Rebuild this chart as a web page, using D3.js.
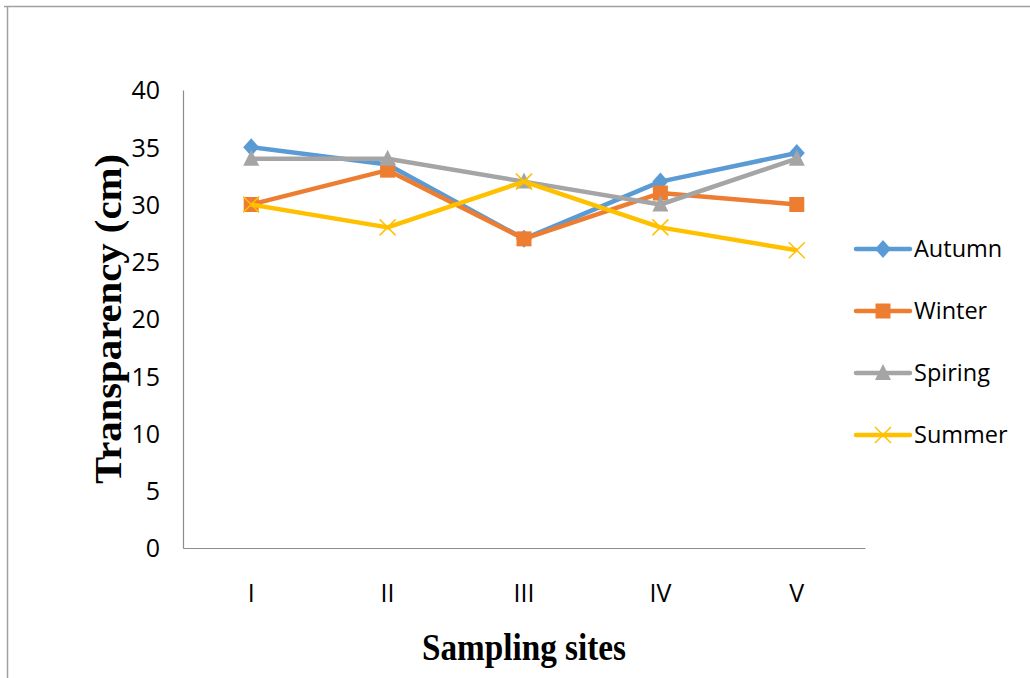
<!DOCTYPE html>
<html>
<head>
<meta charset="utf-8">
<script src="https://cdn.jsdelivr.net/npm/d3@7"></script>
<style>
  body { margin: 0; background: #fff; }
  text { fill: #000; }
  .tick text { font-family: "Open Sans", sans-serif; font-size: 25px; }
  .title { font-family: "Liberation Serif", serif; font-weight: bold; }
  .legend text { font-family: "Open Sans", sans-serif; font-size: 23.5px; }
</style>
</head>
<body>
<script>
// data
var sites = ["I", "II", "III", "IV", "V"];
var seriesNames = ["Autumn", "Winter", "Spiring", "Summer"];
var autumn = [35, 33.5, 27, 32, 34.5];
var winter = [30, 33, 27, 31, 30];
var spiring = [34, 34, 32, 30, 34];
var summer = [30, 28, 32, 28, 26];
var yTicks = [0, 5, 10, 15, 20, 25, 30, 35, 40];

var colors = ["#5b9bd5", "#ed7d31", "#a5a5a5", "#ffc000"];
var shapes = ["diamond", "square", "triangle", "cross"];
var values = [autumn, winter, spiring, summer];

var W = 1030, H = 678;
var margin = {top: 90, right: 165, bottom: 130, left: 183},
    width = W - margin.left - margin.right,
    height = H - margin.top - margin.bottom;

var svg = d3.select("body").append("svg")
    .attr("width", W)
    .attr("height", H);

// outer frame (top and left only visible)
svg.append("line").attr("x1", 4).attr("x2", W).attr("y1", 6.5).attr("y2", 6.5)
    .attr("stroke", "#a0a0a0").attr("stroke-width", 1.5);
svg.append("line").attr("x1", 7.5).attr("x2", 7.5).attr("y1", 6).attr("y2", H)
    .attr("stroke", "#a0a0a0").attr("stroke-width", 1.5);

var g = svg.append("g")
    .attr("transform", "translate(" + margin.left + "," + margin.top + ")");

var x = d3.scaleBand().domain(sites).range([0, width]);
var y = d3.scaleLinear().domain([0, 40]).range([height, 0]);

// axes
var xAxis = g.append("g")
    .attr("transform", "translate(0," + height + ")")
    .call(d3.axisBottom(x).tickSize(0).tickPadding(36));
xAxis.select(".domain").attr("stroke", "#8c8c8c").attr("stroke-width", 1.2);

var yAxis = g.append("g")
    .call(d3.axisLeft(y).tickValues(yTicks).tickSize(0).tickPadding(23));
yAxis.select(".domain").attr("stroke", "#8c8c8c").attr("stroke-width", 1.2);
yAxis.selectAll(".tick text").attr("dy", "0.35em");

// axis titles
svg.append("text")
    .attr("class", "title")
    .attr("x", margin.left + width / 2)
    .attr("y", 660)
    .attr("text-anchor", "middle")
    .attr("textLength", 204)
    .attr("lengthAdjust", "spacingAndGlyphs")
    .style("font-size", "38px")
    .text("Sampling sites");

svg.append("text")
    .attr("class", "title")
    .attr("transform", "translate(121," + (margin.top + height / 2) + ") rotate(-90)")
    .attr("text-anchor", "middle")
    .attr("textLength", 330)
    .attr("lengthAdjust", "spacingAndGlyphs")
    .style("font-size", "38px")
    .text("Transparency (cm)");

var line = d3.line()
    .x(function(d, i) { return x(sites[i]) + x.bandwidth() / 2; })
    .y(function(d) { return y(d); });

function marker(sel, shape, color) {
  if (shape === "diamond") {
    sel.append("path").attr("d", "M0,-9L8,0L0,9L-8,0Z").attr("fill", color);
  } else if (shape === "square") {
    sel.append("rect").attr("x", -7.5).attr("y", -7.5).attr("width", 15).attr("height", 15)
        .attr("fill", color);
  } else if (shape === "triangle") {
    sel.append("path").attr("d", "M0,-9L8,7L-8,7Z").attr("fill", color);
  } else {
    sel.append("path").attr("d", "M-8,-8L8,8M-8,8L8,-8")
        .attr("stroke", color).attr("stroke-width", 1.5).attr("fill", "none");
  }
}

values.forEach(function(vals, s) {
  var sg = g.append("g");
  sg.append("path")
      .datum(vals)
      .attr("fill", "none")
      .attr("stroke", colors[s])
      .attr("stroke-width", 4.5)
      .attr("stroke-linejoin", "round")
      .attr("d", line);
  sg.selectAll(".pt")
      .data(vals)
    .enter().append("g")
      .attr("transform", function(d, i) {
        return "translate(" + (x(sites[i]) + x.bandwidth() / 2) + "," + y(d) + ")";
      })
      .each(function() { marker(d3.select(this), shapes[s], colors[s]); });
});

// legend
var legend = svg.append("g").attr("class", "legend");
seriesNames.forEach(function(name, i) {
  var ly = 249 + i * 62;
  var lg = legend.append("g").attr("transform", "translate(0," + ly + ")");
  lg.append("line").attr("x1", 856).attr("x2", 910).attr("y1", 0).attr("y2", 0)
      .attr("stroke", colors[i]).attr("stroke-width", 4.5).attr("stroke-linecap", "round");
  var m = lg.append("g").attr("transform", "translate(883,0)");
  marker(m, shapes[i], colors[i]);
  lg.append("text").attr("x", 914).attr("y", 0).attr("dy", "0.35em").text(name);
});
</script>
</body>
</html>
